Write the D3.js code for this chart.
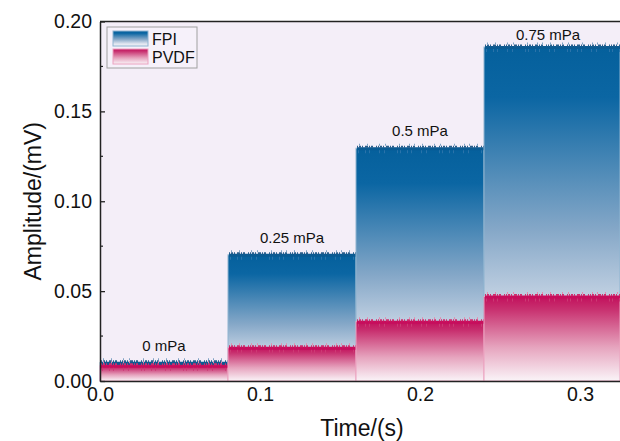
<!DOCTYPE html>
<html>
<head>
<meta charset="utf-8">
<script src="https://cdn.jsdelivr.net/npm/d3@7"></script>
<style>
  body { margin: 0; background: #fff; }
  text { font-family: "Liberation Sans", Arial, sans-serif; fill: #111; }
</style>
</head>
<body>
<div id="viz"></div>
<script>
// data
let stepStart = [0, 0.08, 0.16, 0.24]
let stepEnd = [0.08, 0.16, 0.24, 0.325]
let fpiLevel = [0.0102, 0.0702, 0.1295, 0.1858]
let pvdfLevel = [0.0085, 0.0185, 0.0330, 0.0470]
let stepLabels = ['0 mPa', '0.25 mPa', '0.5 mPa', '0.75 mPa']
let xTicks = [0.0, 0.1, 0.2, 0.3]
let yTicks = [0.00, 0.05, 0.10, 0.15, 0.20]
let yMinor = [0.025, 0.075, 0.125, 0.175]

let width = 620, height = 441
let margin = {left: 100, right: 0, top: 21.5, bottom: 60}

let svg = d3.select('#viz')
			.append('svg')
			.attr('width', width)
			.attr('height', height)

let x = d3.scaleLinear()
			.domain([0, 0.325])
			.range([margin.left, width - margin.right])

let y = d3.scaleLinear()
			.domain([0, 0.2])
			.range([height - margin.bottom, margin.top])

let defs = svg.append('defs')

//gradients, top dark -> bottom white
function gradient(id, stops){
	let g = defs.append('linearGradient')
				.attr('id', id)
				.attr('x1', 0).attr('y1', 0)
				.attr('x2', 0).attr('y2', 1)
	stops.forEach(s => g.append('stop').attr('offset', s[0]).attr('stop-color', s[1]))
}
gradient('gFPI', [[0, '#05609c'], [0.15, '#0b66a3'], [0.55, '#86a8c8'], [0.85, '#dfe5ef'], [1, '#f4f2f8']])
gradient('gPVDF', [[0, '#c2105c'], [0.15, '#c8306f'], [0.6, '#e6a4be'], [1, '#faf4f8']])

let data = stepStart.map((s, i) => ({
	x0: s, x1: stepEnd[i], fpi: fpiLevel[i], pvdf: pvdfLevel[i], label: stepLabels[i]
}))

//plot background
svg.append('rect')
	.attr('x', x(0))
	.attr('y', y(0.2))
	.attr('width', x(0.325) - x(0))
	.attr('height', y(0) - y(0.2))
	.attr('fill', '#f4eef8')

let plot = svg.append('g')

//noisy top edge: solid line plus dashed spikes
function noisyTop(sel, level, cols){
	sel.append('line')
		.attr('x1', d => x(d.x0) + 1).attr('x2', d => x(d.x1))
		.attr('y1', d => y(d[level]) + 0.5).attr('y2', d => y(d[level]) + 0.5)
		.attr('stroke', cols[0]).attr('stroke-width', 3)
	sel.append('line')
		.attr('x1', d => x(d.x0) + 1).attr('x2', d => x(d.x1))
		.attr('y1', d => y(d[level]) - 1.5).attr('y2', d => y(d[level]) - 1.5)
		.attr('stroke', cols[1]).attr('stroke-width', 2)
		.attr('stroke-dasharray', '1 1 2 1 1 2 3 1 1 1 2 3 1 1')
	sel.append('line')
		.attr('x1', d => x(d.x0) + 3).attr('x2', d => x(d.x1))
		.attr('y1', d => y(d[level]) - 3.5).attr('y2', d => y(d[level]) - 3.5)
		.attr('stroke', cols[2]).attr('stroke-width', 2)
		.attr('stroke-dasharray', '1 7 1 11 1 5 1 13 1 9 1 4')
	sel.append('line')
		.attr('x1', d => x(d.x0) + 2).attr('x2', d => x(d.x1))
		.attr('y1', d => y(d[level]) + 3.5).attr('y2', d => y(d[level]) + 3.5)
		.attr('stroke', cols[3]).attr('stroke-width', 3)
		.attr('stroke-dasharray', '1 6 1 3 1 9 1 4 1 12 1 2')
}

//FPI bars
let fpiG = plot.selectAll('.fpi')
	.data(data)
	.enter()
	.append('g')
	.attr('class', 'fpi')

fpiG.append('rect')
	.attr('x', d => x(d.x0))
	.attr('y', d => y(d.fpi))
	.attr('width', d => x(d.x1) - x(d.x0))
	.attr('height', d => y(0) - y(d.fpi))
	.attr('fill', 'url(#gFPI)')
	.attr('stroke', '#8fb4d0')
	.attr('stroke-width', 1)

noisyTop(fpiG, 'fpi', ['#0a5a92', '#2a5f8c', '#7fa3c4', '#2a73aa'])

//PVDF bars
let pvdfG = plot.selectAll('.pvdf')
	.data(data)
	.enter()
	.append('g')
	.attr('class', 'pvdf')

pvdfG.append('rect')
	.attr('x', d => x(d.x0))
	.attr('y', d => y(d.pvdf))
	.attr('width', d => x(d.x1) - x(d.x0))
	.attr('height', d => y(0) - y(d.pvdf))
	.attr('fill', 'url(#gPVDF)')
	.attr('stroke', '#eba2bf')
	.attr('stroke-width', 1)

noisyTop(pvdfG, 'pvdf', ['#c70d5c', '#cf2d6e', '#e48aad', '#cc3a74'])

//step labels
plot.selectAll('.lbl')
	.data(data)
	.enter()
	.append('text')
	.attr('x', d => (x(d.x0) + x(Math.min(d.x1, 0.32))) / 2)
	.attr('y', d => Math.max(y(d.fpi) - 12, 40))
	.attr('text-anchor', 'middle')
	.style('font-size', '15px')
	.text(d => d.label)

//frame top
svg.append('line')
	.attr('x1', x(0)).attr('x2', width)
	.attr('y1', y(0.2)).attr('y2', y(0.2))
	.attr('stroke', '#222').attr('stroke-width', 1.3)

//axes
let yAxis = svg.append('g')
	.attr('transform', `translate(${x(0)},0)`)
	.call(d3.axisLeft(y).tickValues(yTicks).tickFormat(d3.format('.2f')).tickSizeInner(-5).tickSizeOuter(0).tickPadding(8))
yAxis.selectAll('.tick line').attr('stroke', '#222').attr('stroke-width', 1.3)
yAxis.selectAll('.tick text').style('font-size', '19.5px').style('font-family', '"Liberation Sans", Arial, sans-serif').attr('fill', '#111')
yAxis.select('.domain').attr('stroke', '#222').attr('stroke-width', 1.5)

svg.append('g')
	.selectAll('line')
	.data(yMinor)
	.enter()
	.append('line')
	.attr('x1', x(0)).attr('x2', x(0) + 3)
	.attr('y1', d => y(d)).attr('y2', d => y(d))
	.attr('stroke', '#222').attr('stroke-width', 1.2)

let xAxis = svg.append('g')
	.attr('transform', `translate(0,${y(0)})`)
	.call(d3.axisBottom(x).tickValues(xTicks).tickFormat(d3.format('.1f')).tickSize(0).tickPadding(6))
xAxis.selectAll('.tick text').style('font-size', '19.5px').style('font-family', '"Liberation Sans", Arial, sans-serif').attr('fill', '#111')
xAxis.select('.domain').attr('stroke', '#222').attr('stroke-width', 1.5)

//titles
svg.append('text')
	.attr('x', 362)
	.attr('y', 436)
	.attr('text-anchor', 'middle')
	.style('font-size', '23px')
	.text('Time/(s)')

svg.append('text')
	.attr('transform', `translate(41,${(y(0) + y(0.2)) / 2}) rotate(-90)`)
	.attr('text-anchor', 'middle')
	.style('font-size', '23px')
	.text('Amplitude/(mV)')

//legend
let legend = svg.append('g').attr('transform', 'translate(107,27)')
legend.append('rect')
	.attr('width', 90).attr('height', 41)
	.attr('fill', '#f6f1fa')
	.attr('stroke', '#a0a0a0').attr('stroke-width', 1)

let legendItems = [['FPI', 'url(#gFPI)', '#8fb4d0'], ['PVDF', 'url(#gPVDF)', '#eba2bf']]
legendItems.forEach((it, i) => {
	legend.append('rect')
		.attr('x', 6).attr('y', 4 + i * 18)
		.attr('width', 35).attr('height', 15)
		.attr('fill', it[1])
		.attr('stroke', it[2])
	legend.append('text')
		.attr('x', 45).attr('y', 17.5 + i * 18)
		.style('font-size', '16px')
		.text(it[0])
})
</script>
</body>
</html>
